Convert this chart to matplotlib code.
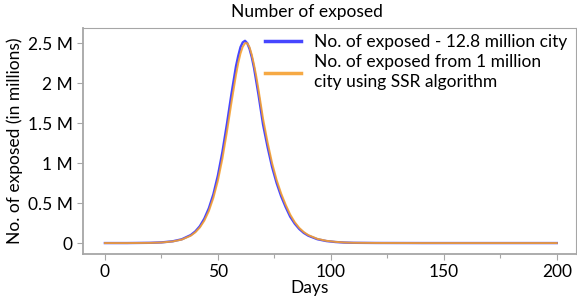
import matplotlib
matplotlib.use("Agg")
import matplotlib.pyplot as plt
from matplotlib.ticker import FuncFormatter, MultipleLocator

# days and number of exposed (millions)
days = [0, 10, 20, 25, 30, 34, 38, 40, 42, 44, 46, 48, 50, 52, 54, 56, 58, 59, 60, 61,
        62, 63, 64, 65, 66, 67, 68, 70, 72, 74, 76, 78, 80, 82, 84, 86, 88, 90, 94,
        98, 102, 106, 110, 120, 140, 160, 180, 200]
exposed_city = [0, 0, 0.003, 0.008, 0.022, 0.047, 0.10, 0.145, 0.21, 0.305, 0.435,
                0.61, 0.845, 1.14, 1.49, 1.865, 2.21, 2.34, 2.45, 2.51, 2.53, 2.50,
                2.43, 2.325, 2.19, 2.02, 1.85, 1.48, 1.20, 0.95, 0.75, 0.585, 0.45,
                0.33, 0.243, 0.176, 0.127, 0.092, 0.048, 0.025, 0.013, 0.006, 0.003,
                0.001, 0, 0, 0, 0]
exposed_ssr = [0, 0, 0.002, 0.007, 0.020, 0.043, 0.092, 0.134, 0.194, 0.28, 0.40,
               0.565, 0.78, 1.055, 1.39, 1.755, 2.10, 2.25, 2.37, 2.455, 2.50, 2.50,
               2.45, 2.355, 2.23, 2.085, 1.915, 1.555, 1.26, 1.00, 0.79, 0.62, 0.48,
               0.357, 0.262, 0.19, 0.138, 0.10, 0.053, 0.028, 0.015, 0.007, 0.003,
               0.001, 0, 0, 0, 0]

plt.rcParams['font.family'] = ['Lato', 'DejaVu Sans']

fig = plt.figure(figsize=(5.77, 2.99), dpi=100)
ax = fig.add_axes([83 / 577, 1 - 254 / 299, (576 - 83) / 577, (254 - 28) / 299])

ax.plot(days, exposed_city, color='#4646ff', lw=1.7, label='No. of exposed - 12.8 million city')
ax.plot(days, exposed_ssr, color='#f5a030', lw=1.4, alpha=0.9,
        label='No. of exposed from 1 million\ncity using SSR algorithm')

ax.set_xlim(-9.7, 208.5)
ax.set_ylim(-0.137, 2.69)
ax.xaxis.set_major_locator(MultipleLocator(50))
ax.xaxis.set_minor_locator(MultipleLocator(25))
ax.yaxis.set_major_locator(MultipleLocator(0.5))
ax.yaxis.set_major_formatter(FuncFormatter(lambda v, p: '0' if abs(v) < 1e-9 else f'{v:g} M'))

for s in ax.spines.values():
    s.set_color('#a6a6a6')
    s.set_linewidth(0.8)
ax.spines['left'].set_linewidth(1.3)
ax.spines['bottom'].set_linewidth(1.3)
ax.tick_params(which='both', colors='#a6a6a6', labelcolor='black', labelsize=12.5, length=4, width=0.8)
ax.tick_params(which='minor', length=3)

ax.set_xlabel('Days', fontsize=12.5)
ax.xaxis.set_label_coords((310 - 83) / 493, -0.113)
ax.set_ylabel('No. of exposed (in millions)', fontsize=12.5)
ax.yaxis.set_label_coords(-0.122, 0.5)
fig.text(307 / 577, 1 - 12 / 299, 'Number of exposed', ha='center', va='center', fontsize=12.5)

leg = ax.legend(loc='upper right', frameon=False, fontsize=12.5, handlelength=2.1,
                handletextpad=0.75, labelspacing=0.2, borderaxespad=0.1,
                bbox_to_anchor=(1.0, 1.01))
for h in leg.get_lines():
    h.set_linewidth(2.5)
for t in leg.get_texts():
    t.set_linespacing(1.35)

fig.savefig('out.png', dpi=100)
